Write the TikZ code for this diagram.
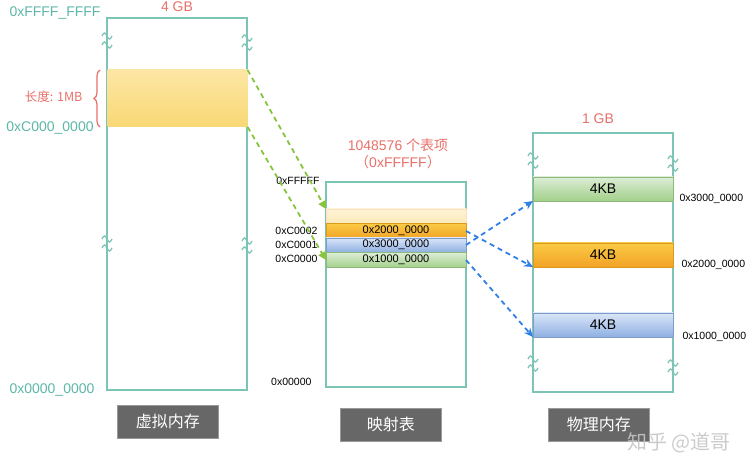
\documentclass[tikz,border=0pt]{standalone}
\usepackage{fontspec}
\setmainfont{Liberation Sans}
\newfontfamily\cjk{Noto Sans CJK SC}
\usetikzlibrary{arrows.meta,decorations.pathreplacing}
\definecolor{tealline}{HTML}{7CC4B6}
\definecolor{tealtext}{HTML}{5DB7A8}
\definecolor{redtext}{HTML}{E8706A}
\definecolor{capgray}{HTML}{676767}
\definecolor{greenarrow}{HTML}{86C53C}
\definecolor{bluearrow}{HTML}{2F80E6}
\definecolor{ytop}{HTML}{FFF4D6}
\definecolor{ybot}{HTML}{FCE9B8}
\definecolor{otop}{HTML}{FBCB45}
\definecolor{obot}{HTML}{F2A226}
\definecolor{ostroke}{HTML}{D99A1E}
\definecolor{btop}{HTML}{DAE6F8}
\definecolor{bbot}{HTML}{8FB0E2}
\definecolor{bstroke}{HTML}{7D9BCB}
\definecolor{gtop}{HTML}{DCEDD6}
\definecolor{gbot}{HTML}{A3D08A}
\definecolor{gstroke}{HTML}{8DBA78}
\definecolor{vtop}{HTML}{FCE6A4}
\definecolor{vbot}{HTML}{F9D874}
\newcommand{\fs}[1]{\fontsize{#1}{#1}\selectfont}
\begin{document}
\begin{tikzpicture}[x=1pt,y=-1pt,
  membox/.style={draw=tealline, line width=1.3pt, anchor=north west, inner sep=0, outer sep=0, fill=white, minimum width=140pt},
  caption/.style={fill=capgray, draw=gray!80, line width=0.6pt, text=white, font=\cjk\fs{16}, minimum width=101pt, minimum height=33pt, anchor=north west, inner sep=0},
  rowbox/.style={anchor=north west, minimum width=140pt, inner sep=0, outer sep=0, line width=0.7pt},
  yellowrow/.style={rowbox, top color=ytop, bottom color=ybot, draw=orange!25},
  orangerow/.style={rowbox, top color=otop, bottom color=obot, draw=ostroke},
  bluerow/.style={rowbox, top color=btop, bottom color=bbot, draw=bstroke},
  greenrow/.style={rowbox, top color=gtop, bottom color=gbot, draw=gstroke},
  addr/.style={font=\fs{10.5}, text=black},
  bigaddr/.style={font=\fs{14}, text=tealtext},
  redlbl/.style={font=\fs{14}, text=redtext},
  garrow/.style={draw=greenarrow, line width=1.8pt, dash pattern=on 5pt off 4pt, -{Triangle[length=8pt,width=8pt]}},
  barrow/.style={draw=bluearrow, line width=1.8pt, dash pattern=on 5pt off 4pt, -{Stealth[length=9pt,width=8pt]}},
  squig/.pic={\draw[tealline, line width=1.3pt] (-5,-4) sin (-2.5,-7) cos (0,-4) sin (2.5,-1) cos (5,-4);
              \draw[tealline, line width=1.3pt] (-5,5) sin (-2.5,2) cos (0,5) sin (2.5,8) cos (5,5);}
]
\useasboundingbox (0,0) rectangle (756,465);
\fill[white] (0,0) rectangle (756,465);

% ---------- virtual memory ----------
\node[membox, minimum height=372pt] (vm) at (107,18) {};
\node[rowbox, minimum height=57pt, top color=vtop, bottom color=vbot, draw=none] (blk) at (107.6,70) {};
\pic at (107,40) {squig};
\pic at (247,42) {squig};
\pic at (107,243) {squig};
\pic at (247,245) {squig};
\node[redlbl] (vmsize) at (177,7) {4 GB};
\node[bigaddr] (vmtop) at (55,13) {0xFFFF\_FFFF};
\node[bigaddr] (vmc) at (50,128) {0xC000\_0000};
\node[bigaddr] (vmzero) at (52,390) {0x0000\_0000};
\draw[redtext, line width=1.2pt, decorate, decoration={brace, amplitude=6pt}] (100,127) -- (100,70);
\node[font=\cjk\fs{12.5}, text=redtext, anchor=east] (len) at (86,97) {长度: 1MB};
\node[caption] (cap1) at (117,405) {虚拟内存};

% ---------- mapping table ----------
\node[membox, minimum height=205pt] (pt) at (326,182) {};
\node[yellowrow, minimum height=14pt] (r4) at (326,209) {};
\node[orangerow, minimum height=15pt, font=\fs{11}] (r2) at (326,223.5) {0x2000\_0000};
\node[bluerow, minimum height=14pt, font=\fs{11}] (r1) at (326,238) {0x3000\_0000};
\node[greenrow, minimum height=15pt, font=\fs{11}] (r0) at (326,252.5) {0x1000\_0000};
\node[font=\fs{14}, text=redtext] (cnt) at (398,145) {1048576 {\cjk 个表项}};
\node[font=\fs{14}, text=redtext] (cnthex) at (398,162) {{\cjk （}0xFFFFF{\cjk ）}};
\node[addr, anchor=east] (lf) at (323,181) {0xFFFFF};
\node[addr, anchor=east] (l2) at (321,231) {0xC0002};
\node[addr, anchor=east] (l1) at (321,245) {0xC0001};
\node[addr, anchor=east] (l0) at (321,259) {0xC0000};
\node[addr, anchor=east] (lz) at (315,382) {0x00000};
\node[caption] (cap2) at (340,408) {映射表};

% ---------- physical memory ----------
\node[membox, minimum height=259pt] (pm) at (533,133) {};
\node[greenrow, minimum height=24pt, font=\fs{14}] (p3) at (533,177) {4KB};
\node[orangerow, minimum height=24pt, font=\fs{14}] (p2) at (533,243) {4KB};
\node[bluerow, minimum height=24pt, font=\fs{14}] (p1) at (533,313) {4KB};
\pic at (533,160) {squig};
\pic at (673,163) {squig};
\pic at (533,363) {squig};
\pic at (673,367) {squig};
\node[redlbl] (pmsize) at (598,119) {1 GB};
\node[addr, anchor=west] (a3) at (676,199) {0x3000\_0000};
\node[addr, anchor=west] (a2) at (678,265) {0x2000\_0000};
\node[addr, anchor=west] (a1) at (679,337) {0x1000\_0000};
\node[caption] (cap3) at (548,408) {物理内存};

% ---------- arrows ----------
\draw[garrow] (blk.north east) -- (r4.north west);
\draw[garrow] (blk.south east) -- (r0.west);
\draw[barrow] (r1.east) -- (p3.south west);
\draw[barrow] (r2.east) -- (p2.south west);
\draw[barrow] (r0.east) -- (p1.south west);

% ---------- watermark ----------
\node[font=\cjk\fs{20}, text=gray!45, opacity=0.9] (wm) at (679,443) {知乎 @道哥};
\end{tikzpicture}
\end{document}
